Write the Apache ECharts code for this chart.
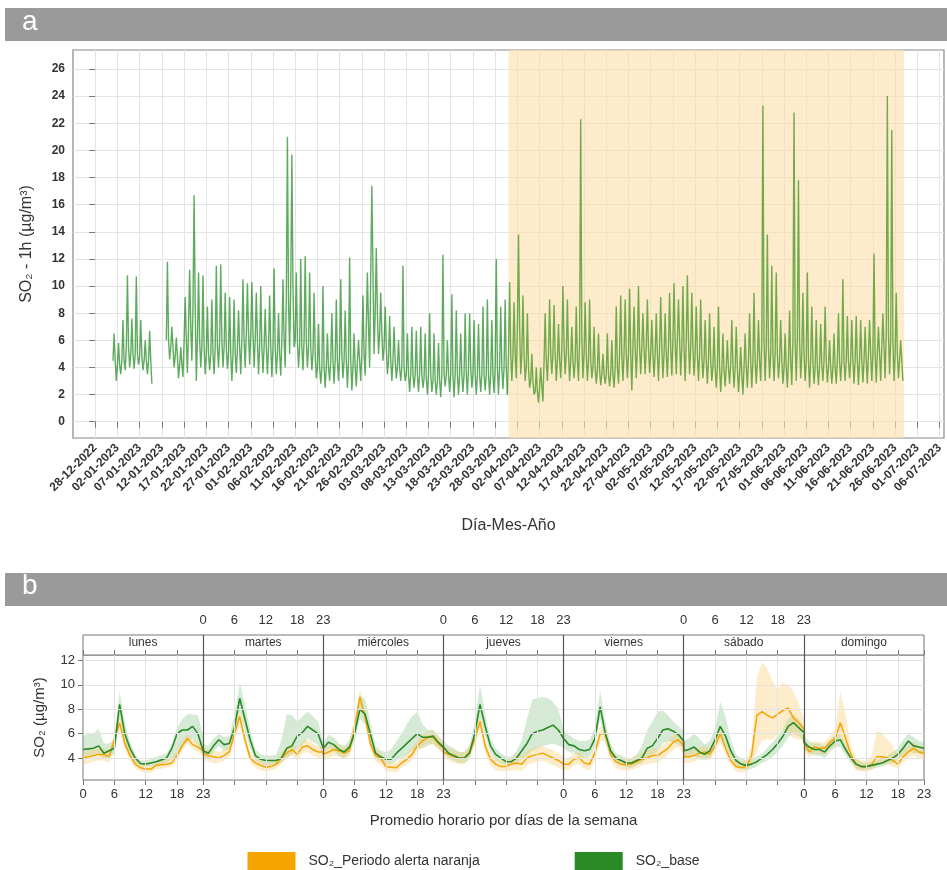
<!DOCTYPE html>
<html><head><meta charset="utf-8">
<script src="https://cdn.jsdelivr.net/npm/echarts@6/dist/echarts.min.js"></script>
<style>html,body{margin:0;padding:0;background:#fff}#c{width:947px;height:870px}</style>
</head><body><div id="c"></div>
<script>
// ---------- Panel a: hourly SO2 (days since 28-12-2022), daily low / typical / high ----------
const startDay = 4;
const dailyLow = [3.0,3.5,3.8,4.0,3.9,4.2,3.8,3.5,2.8, null,null,null,
 4.6,4.0,3.2,3.3,
 3.6,4.5,3.0,4.0,3.5,3.8,3.5,4.0,4.0,3.9,
 3.0,3.6,3.5,4.0,4.2,4.0,3.5,3.6,3.5,3.3,
 3.5,3.4,4.0,5.0,5.5,4.0,3.8,4.0,3.8,3.2,
 2.8,2.5,3.0,2.8,3.0,3.2,2.5,2.3,2.6,3.0,
 3.4,4.0,5.0,5.0,4.5,3.5,3.0,3.2,3.0,3.0,
 2.2,2.5,2.2,2.5,2.0,2.2,2.0,1.8,2.6,2.2,
 1.8,2.0,2.2,2.0,2.5,2.0,2.2,2.3,2.0,2.1,
 2.0,2.4,2.0,3.0,3.2,3.5,3.0,2.5,2.0,1.4,
 1.5,3.0,3.5,3.0,3.2,3.5,3.0,3.2,3.0,3.2,
 3.0,3.2,2.8,2.7,2.8,2.6,2.5,2.8,3.0,3.2,
 2.3,3.2,3.5,3.5,3.6,3.3,3.0,3.2,3.3,3.4,
 3.5,3.4,3.0,3.5,3.4,3.0,3.2,2.8,3.0,2.5,
 2.2,2.6,2.8,2.5,2.2,2.0,2.5,2.5,2.8,3.0,
 3.0,3.2,3.0,3.2,2.8,2.5,2.7,3.0,3.2,3.0,
 2.5,2.8,2.7,3.0,2.9,2.8,2.8,3.0,3.0,3.2,
 2.8,2.7,2.9,2.8,3.0,2.9,3.0,3.2,3.5,3.0,
 3.2,3.0];
const dailyMid = [4.5,4.2,4.5,5.5,5.0,5.0,4.8,4.5,4.5, null,null,null,
 6.0,5.5,4.8,4.2,
 6.0,7.0,8.5,6.0,5.5,5.0,5.0,5.5,6.0,5.5,
 5.0,5.0,5.5,6.0,6.5,6.5,6.0,5.5,5.5,5.5,
 5.5,5.0,6.0,9.0,10.0,6.0,5.5,6.0,5.5,5.0,
 4.0,4.0,4.0,4.5,4.5,5.0,4.5,4.5,4.0,4.5,
 5.0,7.0,11.0,8.0,6.5,5.5,4.5,4.5,4.0,4.0,
 3.5,3.5,3.5,3.5,3.2,3.5,3.0,3.0,3.5,3.5,
 3.5,3.5,3.5,3.5,4.0,3.5,3.5,3.5,3.5,3.5,
 4.0,4.0,4.0,5.0,5.0,7.0,5.0,4.0,3.0,2.2,
 2.5,4.5,5.0,5.0,4.5,5.5,5.0,4.5,4.5,6.0,
 5.0,4.5,4.0,3.8,3.5,3.5,3.5,4.0,5.0,5.0,
 5.0,5.5,5.5,5.5,5.5,5.0,5.0,5.5,5.0,5.5,
 6.0,6.0,5.5,6.0,5.5,5.0,5.0,4.5,4.5,4.0,
 4.0,3.8,4.0,4.2,4.0,3.5,4.0,4.5,4.5,4.5,
 6.0,5.5,5.0,5.0,4.5,4.0,4.5,6.0,6.0,5.0,
 4.5,4.5,4.0,4.2,4.5,4.0,4.0,4.5,4.5,4.5,
 4.5,4.5,4.5,4.5,5.0,5.0,5.0,5.5,6.5,6.0,
 5.0,4.5];
const dailyHigh = [6.5,5.8,7.5,10.8,7.6,10.7,7.5,6.0,6.7, null,null,null,
 11.8,7.0,6.2,5.5,
 9.2,11.2,16.7,11.0,10.8,8.5,9.0,11.5,11.6,9.5,
 9.2,9.0,8.2,10.5,10.2,10.3,9.5,10.0,8.3,9.3,
 11.3,8.0,10.5,21.0,19.7,11.0,12.0,12.2,11.0,9.5,
 7.2,10.0,6.5,8.0,9.0,10.5,8.2,12.1,6.5,6.0,
 9.3,11.0,17.4,12.8,9.5,8.5,7.8,7.0,6.0,11.5,
 6.5,7.0,6.7,7.0,6.5,8.0,6.5,5.8,12.3,6.0,
 9.4,8.2,6.5,8.0,8.0,7.5,7.2,8.5,9.0,7.5,
 12.0,8.5,9.0,10.3,8.8,13.8,9.3,8.0,5.0,4.0,
 4.0,8.0,9.0,8.6,7.2,10.0,9.0,7.0,8.5,22.3,
 8.8,9.0,7.0,6.5,5.0,6.5,6.0,8.5,9.3,9.0,
 9.8,8.5,10.0,8.0,9.0,7.5,8.0,9.2,8.0,9.5,
 10.2,9.0,10.0,10.8,9.5,8.5,9.0,7.5,8.0,7.0,
 8.5,6.5,6.0,7.5,7.0,5.5,6.5,8.0,9.5,7.5,
 23.3,13.8,11.5,11.0,7.5,6.5,8.2,22.8,17.8,9.5,
 11.0,8.5,7.5,7.2,8.5,6.0,6.5,8.0,10.5,7.8,
 7.5,7.8,7.5,7.0,7.5,12.4,7.0,8.0,24.0,21.5,
 9.5,6.0];
const alertStart = 93, alertEnd = 182;
const yTicksA = [0,2,4,6,8,10,12,14,16,18,20,22,24,26];
const xTickDaysA = []; for (let d = 0; d <= 190; d += 5) xTickDaysA.push(d);

// ---------- Panel b: hourly means per weekday ----------
const weekdays = ['lunes','martes','miércoles','jueves','viernes','sábado','domingo'];
const baseMean = [
 [4.7,4.75,4.8,5.0,4.4,4.6,4.8,8.4,6.0,4.8,4.0,3.55,3.5,3.6,3.7,3.85,4.0,4.8,6.0,6.3,6.3,6.6,6.0,4.6],
 [4.6,4.4,5.0,5.5,5.1,5.2,6.5,8.9,7.2,5.5,4.2,3.9,3.8,3.8,3.8,4.0,4.8,5.0,5.8,6.1,6.6,6.3,6.0,4.8],
 [4.7,5.3,5.1,4.7,4.5,4.9,6.0,8.0,7.6,6.0,4.4,4.1,3.9,3.9,4.4,4.8,5.2,5.6,6.0,5.7,5.7,5.8,5.3,4.9],
 [4.9,4.4,4.2,4.0,4.0,4.4,6.0,8.4,6.6,5.0,4.3,4.0,3.7,3.7,4.0,4.6,5.2,6.0,6.2,6.3,6.5,6.7,6.3,5.6],
 [5.5,5.1,5.0,4.7,4.6,4.7,5.6,8.2,6.0,4.6,4.0,3.8,3.6,3.6,3.8,4.0,4.8,5.0,5.6,6.3,6.4,6.2,5.9,5.4],
 [4.6,4.7,4.9,4.5,4.3,4.6,5.5,6.6,5.8,4.6,3.8,3.5,3.4,3.5,3.7,4.0,4.3,4.7,5.2,5.8,6.6,6.9,6.5,6.1],
 [5.3,4.9,4.7,4.7,4.5,5.0,5.4,5.5,4.7,4.0,3.5,3.3,3.3,3.4,3.5,3.6,3.8,4.0,4.3,4.8,5.4,5.0,4.9,4.8]];
const baseUp = [
 [5.8,6.0,6.0,6.4,5.2,5.2,5.5,9.5,7.0,5.3,4.3,3.8,3.8,3.9,4.1,4.2,4.4,5.0,6.5,7.2,7.6,7.6,7.5,5.8],
 [5.2,5.0,5.6,6.0,5.7,5.8,7.5,10.2,8.4,6.3,4.7,4.3,4.2,4.2,4.3,5.5,7.6,7.5,7.0,7.4,7.8,7.4,7.0,5.3],
 [5.3,5.9,5.7,5.2,5.0,5.5,7.0,9.2,8.8,7.0,5.0,4.6,4.5,4.7,5.4,6.0,6.8,7.4,7.8,6.8,6.3,6.3,5.8,5.4],
 [5.4,5.0,4.8,4.5,4.5,5.0,7.0,10.0,7.6,5.6,4.8,4.4,4.1,4.1,4.6,5.5,7.2,8.8,8.9,9.0,8.9,8.6,8.0,6.3],
 [6.3,5.9,5.6,5.4,5.4,5.5,6.5,9.5,7.0,5.2,4.4,4.2,4.0,4.0,4.3,5.0,6.3,7.0,7.8,7.9,7.5,7.0,6.6,6.2],
 [5.4,5.6,6.0,5.6,5.1,5.4,6.4,8.6,7.4,5.5,4.3,4.0,3.8,3.9,4.1,4.4,4.8,5.3,5.8,6.4,7.2,7.6,7.2,6.6],
 [5.8,5.4,5.2,5.2,5.0,5.5,5.9,6.0,5.2,4.4,3.9,3.7,3.6,3.7,3.8,4.0,4.2,4.5,4.8,5.5,6.0,5.7,5.4,5.3]];
const baseLo = [
 [4.1,4.2,4.2,4.3,3.9,4.1,4.3,7.4,5.2,4.2,3.6,3.3,3.3,3.3,3.4,3.5,3.6,3.9,4.2,5.0,5.3,5.6,5.0,4.1],
 [4.1,3.9,4.5,5.0,4.6,4.7,5.6,7.8,6.2,4.8,3.8,3.5,3.4,3.4,3.4,3.6,4.0,4.3,4.8,5.0,5.6,5.3,5.1,4.3],
 [4.2,4.8,4.6,4.2,4.0,4.4,5.4,7.2,6.8,5.3,4.0,3.7,3.5,3.5,3.8,4.0,4.3,4.6,4.8,4.8,5.0,5.2,4.8,4.4],
 [4.4,4.0,3.8,3.6,3.6,3.9,5.4,7.4,5.8,4.5,3.8,3.6,3.4,3.4,3.6,3.9,4.2,4.6,4.8,5.0,5.1,5.2,5.0,4.9],
 [4.8,4.5,4.4,4.1,4.0,4.1,5.0,7.2,5.2,4.1,3.6,3.4,3.2,3.2,3.4,3.6,4.0,4.2,4.6,5.2,5.4,5.3,5.1,4.8],
 [4.0,4.1,4.2,3.9,3.8,4.0,4.8,5.9,5.0,4.0,3.4,3.1,3.0,3.1,3.3,3.6,3.8,4.1,4.5,5.0,5.7,6.0,5.8,5.4],
 [4.7,4.4,4.2,4.2,4.0,4.5,4.9,4.9,4.2,3.6,3.1,3.0,3.0,3.1,3.2,3.3,3.5,3.6,3.9,4.2,4.6,4.4,4.4,4.3]];
const alertMean = [
 [4.0,4.1,4.2,4.3,4.3,4.1,5.5,6.9,5.2,4.2,3.5,3.2,3.1,3.1,3.4,3.45,3.5,3.6,4.2,5.0,5.6,5.1,4.9,4.6],
 [4.4,4.2,4.1,4.0,4.2,4.5,6.0,7.4,5.5,4.0,3.6,3.4,3.25,3.3,3.5,4.0,4.4,4.7,4.3,4.9,5.0,4.7,4.5,4.5],
 [4.3,4.5,4.7,4.6,4.4,4.6,6.5,9.0,7.4,5.2,4.2,4.0,3.3,3.25,3.2,3.6,3.9,4.3,5.0,5.4,5.7,5.7,5.2,4.8],
 [4.5,4.3,4.1,4.0,4.0,4.5,5.5,7.0,5.0,3.9,3.5,3.3,3.3,3.5,3.6,3.5,4.0,4.2,4.3,4.4,4.2,4.0,3.8,3.5],
 [3.5,3.5,3.9,4.0,3.6,3.5,4.4,6.0,6.0,4.3,3.7,3.5,3.45,3.5,3.7,3.9,4.0,4.2,4.2,4.5,4.8,5.3,5.5,5.0],
 [4.1,4.1,4.2,4.4,4.5,4.3,5.0,6.0,4.8,3.8,3.3,3.2,3.3,4.2,7.5,7.8,7.5,7.3,7.6,7.9,8.1,7.3,6.9,6.4],
 [5.3,4.5,4.9,4.8,4.8,5.3,5.6,6.9,5.6,4.3,3.5,3.3,3.3,3.5,4.1,4.1,4.0,3.8,3.5,4.1,4.5,4.8,4.5,4.4]];
const alertUp = [
 [4.5,4.6,4.7,4.8,4.8,4.6,6.0,7.5,5.7,4.6,3.9,3.5,3.4,3.4,3.7,3.8,3.9,4.0,4.6,5.4,6.0,5.5,5.3,5.0],
 [4.9,4.7,4.6,4.5,4.7,5.0,6.6,8.0,6.0,4.5,4.0,3.8,3.6,3.7,3.9,4.5,4.9,5.2,4.8,5.4,5.5,5.2,5.0,5.0],
 [4.8,5.0,5.2,5.1,4.9,5.2,7.2,9.6,8.0,5.8,4.7,4.5,3.7,3.7,3.6,4.0,4.4,4.8,5.5,5.9,6.2,6.3,5.8,5.3],
 [5.0,4.8,4.6,4.5,4.5,5.0,6.0,7.6,5.6,4.4,4.0,3.8,3.8,4.0,4.3,4.2,4.6,4.8,4.9,5.0,4.8,4.6,4.4,4.1],
 [4.0,4.0,4.4,4.5,4.1,4.0,5.0,6.6,6.6,4.8,4.2,4.0,3.9,4.0,4.2,4.4,4.6,4.8,4.8,5.1,5.4,5.9,6.1,5.6],
 [4.6,4.6,4.7,4.9,5.0,4.8,5.5,6.6,5.4,4.3,3.8,3.7,3.8,5.0,10.5,11.9,11.3,10.3,9.6,10.2,10.0,9.5,8.5,7.2],
 [5.8,5.0,5.4,5.3,5.3,5.8,6.5,9.5,7.5,5.0,4.0,3.8,3.8,4.2,6.3,6.0,5.5,5.0,4.2,4.8,5.0,5.3,5.0,4.9]];
const alertLo = [
 [3.4,3.6,3.7,3.8,3.8,3.6,5.0,6.3,4.7,3.8,3.1,2.9,2.8,2.8,3.1,3.1,3.2,3.3,3.8,4.6,5.2,4.7,4.5,4.2],
 [3.9,3.7,3.6,3.6,3.8,4.0,5.4,6.8,5.0,3.6,3.2,3.0,2.9,3.0,3.1,3.6,4.0,4.2,3.8,4.4,4.5,4.2,4.0,4.0],
 [3.8,4.0,4.2,4.1,3.9,4.1,5.8,8.4,6.8,4.6,3.7,3.5,2.9,2.9,2.8,3.2,3.5,3.8,4.5,4.9,5.2,5.1,4.7,4.3],
 [4.0,3.8,3.6,3.5,3.5,4.0,5.0,6.4,4.4,3.4,3.0,2.9,2.9,3.0,3.0,2.9,3.4,3.6,3.7,3.8,3.6,3.4,3.2,3.0],
 [3.0,3.0,3.4,3.5,3.1,3.0,3.8,5.4,5.4,3.8,3.2,3.0,3.0,3.0,3.2,3.4,3.5,3.6,3.6,3.9,4.2,4.7,4.9,4.4],
 [3.6,3.6,3.7,3.9,4.0,3.8,4.5,5.4,4.3,3.4,2.9,2.8,2.9,3.5,4.5,5.5,5.5,5.5,6.0,6.4,6.0,5.6,5.5,5.5],
 [4.8,4.0,4.4,4.3,4.3,4.8,5.0,5.8,4.8,3.8,3.0,2.9,2.9,3.0,3.4,3.5,3.5,3.3,3.1,3.6,4.0,4.2,4.0,3.8]];
const yTicksB = [4,6,8,10,12];
const hourTicks = [0,6,12,18];
const nameAlert = 'SO\u2082_Periodo alerta naranja', nameBase = 'SO\u2082_base';

// ---------- build ----------
const base = Date.UTC(2022,11,28);
function fmtDay(d){const t=new Date(base+d*86400000);const p=n=>String(n).padStart(2,'0');return p(t.getUTCDate())+'-'+p(t.getUTCMonth()+1)+'-'+t.getUTCFullYear();}
const ptsBefore=[], ptsAfter=[];
dailyLow.forEach((lo,i)=>{
  const d=startDay+i, hi=dailyHigh[i], mid=dailyMid[i];
  const arr = d < alertStart ? ptsBefore : ptsAfter;
  if(lo==null){arr.push([d,null]);return;}
  arr.push([d,mid]); arr.push([d+0.25,hi]); arr.push([d+0.5,mid]); arr.push([d+0.75,lo]);
  if(d===alertStart-1){ptsAfter.push([d+0.75,lo]);}
});
const X = (d,h)=>d*23+h;
function flat(m){const out=[];m.forEach((row,d)=>row.forEach((v,h)=>out.push([X(d,h),v])));return out;}
function bandSegs(lo,up){const out=[];for(let d=0;d<7;d++)for(let h=0;h<23;h++)out.push([X(d,h),lo[d][h],up[d][h],X(d,h+1),lo[d][h+1],up[d][h+1]]);return out;}
const bTicks=[]; for(let d=0;d<7;d++) hourTicks.forEach(h=>bTicks.push(X(d,h))); bTicks.push(161);
const botLabels=[], topLabels=[];
[0,2,4,6].forEach(d=>[0,6,12,18,23].forEach(h=>botLabels.push(X(d,h))));
[1,3,5].forEach(d=>[0,6,12,18,23].forEach(h=>topLabels.push(X(d,h))));
function hourFmt(bottom){return v=>{const r=v%23;if(r!==0)return String(r);if(v===0)return '0';const d=v/23;const odd=d%2===1;return bottom?(odd?'23':'0'):(odd?'0':'23');};}
const boundaryLines=[1,2,3,4,5,6].map(d=>({xAxis:d*23}));
const minorLines=[]; for(let d=0;d<7;d++)[6,12,18].forEach(h=>minorLines.push({xAxis:X(d,h)}));
const dayCenters=weekdays.map((w,d)=>d*23+11.5);
function bandRender(color){return function(params,api){
  const a=api.coord([api.value(0),api.value(1)]), b=api.coord([api.value(3),api.value(4)]),
        c=api.coord([api.value(3),api.value(5)]), e=api.coord([api.value(0),api.value(2)]);
  return {type:'polygon',shape:{points:[a,b,c,e]},style:{fill:color}};
};}

const ff='Liberation Sans, Arial, sans-serif';
const chart=echarts.init(document.getElementById('c'));
chart.setOption({
  animation:false,
  textStyle:{fontFamily:ff},
  graphic:[
    {type:'rect',shape:{x:5,y:8,width:942,height:33},style:{fill:'#9a9a9a'}},
    {type:'text',left:22,top:8,style:{text:'a',fill:'#fff',font:'28px '+ff}},
    {type:'rect',shape:{x:5,y:573,width:942,height:33},style:{fill:'#9a9a9a'}},
    {type:'text',left:22,top:572,style:{text:'b',fill:'#fff',font:'28px '+ff}}
  ],
  legend:{top:847,left:'center',itemWidth:48,itemHeight:18,itemGap:95,icon:'rect',
    textStyle:{fontSize:14,color:'#333',padding:[0,0,0,8]},
    data:[{name:nameAlert,itemStyle:{color:'#f5a400'}},{name:nameBase,itemStyle:{color:'#2a8a26'}}]},
  grid:[
    {left:73,right:3,top:50,height:388,show:true,borderColor:'#888',borderWidth:1.2},
    {left:83,right:23,top:655,height:125,show:true,borderColor:'#777',borderWidth:1},
    {left:83,right:23,top:635,height:20,show:true,borderColor:'#777',borderWidth:1,backgroundColor:'#fff'}
  ],
  xAxis:[
    {gridIndex:0,type:'value',min:-5,max:191,interval:2.5,
     axisLine:{show:false},
     axisTick:{show:true,length:6,lineStyle:{color:'#777'},customValues:xTickDaysA},
     axisLabel:{customValues:xTickDaysA,formatter:v=>fmtDay(v),rotate:45,fontSize:12,fontWeight:'bold',color:'#333',margin:8},
     splitLine:{show:true,lineStyle:{color:'#e4e4e4',width:1}},
     name:'Día-Mes-Año',nameLocation:'middle',nameGap:80,nameTextStyle:{fontSize:16,color:'#333'}},
    {gridIndex:1,type:'value',min:0,max:161,
     axisLine:{show:false},
     axisTick:{show:true,length:5,lineStyle:{color:'#777'},customValues:bTicks},
     axisLabel:{customValues:botLabels,formatter:hourFmt(true),fontSize:13,color:'#333',margin:8},
     splitLine:{show:false},
     name:'Promedio horario por días de la semana',nameLocation:'middle',nameGap:33,nameTextStyle:{fontSize:15,color:'#333'}},
    {gridIndex:2,type:'value',min:0,max:161,position:'top',
     axisLine:{show:false},
     axisTick:{show:true,length:5,lineStyle:{color:'#777'},customValues:bTicks},
     axisLabel:{customValues:topLabels,formatter:hourFmt(false),fontSize:13,color:'#333',margin:8},
     splitLine:{show:false}},
    {gridIndex:2,type:'value',min:0,max:161,position:'bottom',
     axisLine:{show:false},axisTick:{show:false},splitLine:{show:false},
     axisLabel:{customValues:dayCenters,formatter:v=>weekdays[Math.round((v-11.5)/23)],fontSize:12,color:'#333',margin:-18,verticalAlign:'top'}}
  ],
  yAxis:[
    {gridIndex:0,type:'value',min:-1.2,max:27.4,interval:1,
     axisLine:{show:false},
     axisTick:{show:true,length:6,lineStyle:{color:'#777'},customValues:yTicksA},
     axisLabel:{customValues:yTicksA,fontSize:12,fontWeight:'bold',color:'#333'},
     splitLine:{show:true,lineStyle:{color:'#e4e4e4'}},
     name:'SO\u2082 - 1h (\u00b5g/m\u00b3)',nameLocation:'middle',nameGap:38,nameTextStyle:{fontSize:16,color:'#333'}},
    {gridIndex:1,type:'value',min:2.2,max:12.45,interval:1,
     axisLine:{show:false},
     axisTick:{show:true,length:5,lineStyle:{color:'#777'},customValues:yTicksB},
     axisLabel:{customValues:yTicksB,fontSize:13,color:'#333'},
     splitLine:{show:false},
     name:'SO\u2082 (\u00b5g/m\u00b3)',nameLocation:'middle',nameGap:36,nameTextStyle:{fontSize:15,color:'#333'}},
    {gridIndex:2,type:'value',min:0,max:1,show:false}
  ],
  series:[
    {type:'line',xAxisIndex:0,yAxisIndex:0,data:ptsBefore,symbol:'none',connectNulls:false,
     lineStyle:{color:'rgba(25,135,25,0.7)',width:1.4},
     markArea:{silent:true,itemStyle:{color:'rgba(252,222,170,0.6)'},data:[[{xAxis:alertStart},{xAxis:alertEnd}]]}},
    {type:'line',xAxisIndex:0,yAxisIndex:0,data:ptsAfter,symbol:'none',
     lineStyle:{color:'rgba(60,145,25,0.72)',width:1.4}},
    {type:'line',xAxisIndex:1,yAxisIndex:1,data:[],silent:true,
     markLine:{silent:true,symbol:'none',label:{show:false},
       data:[...minorLines.map(m=>({...m,lineStyle:{color:'#e2e2e2',width:1,type:'solid'}})),
             ...yTicksB.map(v=>({yAxis:v,lineStyle:{color:'#e2e2e2',width:1,type:'solid'}})),
             ...boundaryLines.map(m=>({...m,lineStyle:{color:'#555',width:1.2,type:'solid'}}))]}},
    {type:'line',xAxisIndex:2,yAxisIndex:2,data:[],silent:true,
     markLine:{silent:true,symbol:'none',label:{show:false},
       data:boundaryLines.map(m=>({...m,lineStyle:{color:'#555',width:1.2,type:'solid'}}))}},
    {type:'custom',xAxisIndex:1,yAxisIndex:1,data:bandSegs(baseLo,baseUp),renderItem:bandRender('rgba(120,190,120,0.32)'),
     encode:{x:[0,3],y:[1,2,4,5]},silent:true,clip:true,z:1},
    {type:'custom',xAxisIndex:1,yAxisIndex:1,data:bandSegs(alertLo,alertUp),renderItem:bandRender('rgba(250,200,100,0.35)'),
     encode:{x:[0,3],y:[1,2,4,5]},silent:true,clip:true,z:1},
    {name:nameAlert,type:'line',xAxisIndex:1,yAxisIndex:1,data:flat(alertMean),symbol:'none',z:3,
     itemStyle:{color:'#f5a400'},lineStyle:{color:'#f5a400',width:1.5}},
    {name:nameBase,type:'line',xAxisIndex:1,yAxisIndex:1,data:flat(baseMean),symbol:'none',z:4,
     itemStyle:{color:'#2a8a26'},lineStyle:{color:'#2a8a26',width:1.6}}
  ]
});
</script></body></html>
